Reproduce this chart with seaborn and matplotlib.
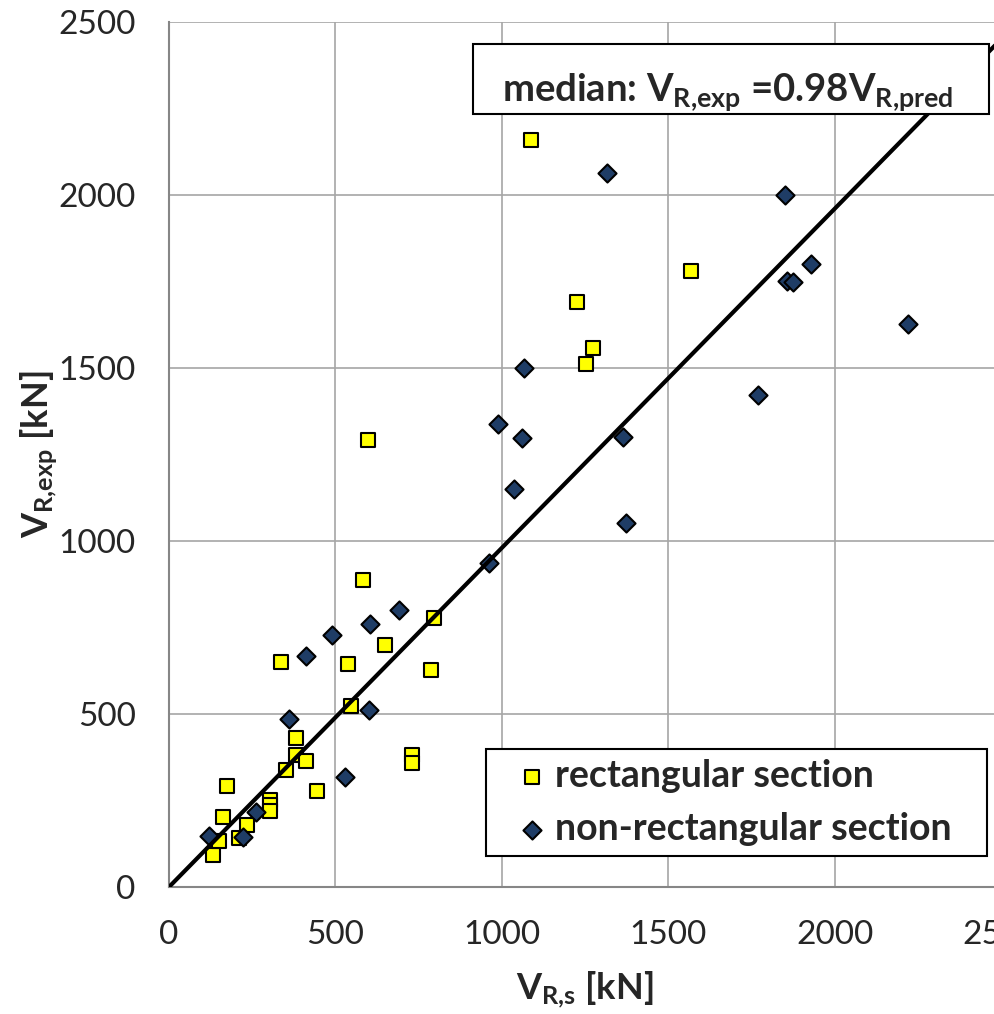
import pandas as pd
import seaborn as sns
import matplotlib.pyplot as plt
from matplotlib.patches import Rectangle

# values (kN)
rect_x = [133, 151, 163, 173, 211, 233, 304, 304, 304, 351, 381, 382, 411, 444,
          537, 546, 583, 598, 649, 731, 731, 787, 797, 337, 1089, 1227, 1253, 1273, 1568]
rect_y = [93, 134, 203, 293, 141, 179, 252, 237, 220, 339, 432, 382, 363, 277,
          645, 524, 888, 1292, 700, 382, 358, 628, 778, 650, 2160, 1692, 1513, 1559, 1781]

nonrect_x = [121, 222, 260, 362, 411, 491, 529, 602, 604, 692, 963, 990, 1037, 1060,
             1067, 1317, 1363, 1373, 1770, 1852, 1856, 1876, 1928, 2220]
nonrect_y = [147, 144, 218, 486, 669, 729, 319, 512, 760, 800, 937, 1337, 1149, 1299,
             1501, 2063, 1301, 1051, 1423, 2001, 1752, 1749, 1800, 1626]

median_factor = 0.98
line_x = [0, 2500]
ticks = [0, 500, 1000, 1500, 2000, 2500]

rect = pd.DataFrame({'pred': rect_x, 'exp': rect_y})
nonrect = pd.DataFrame({'pred': nonrect_x, 'exp': nonrect_y})

sns.set_style('white')
plt.rcParams['font.family'] = ['Lato', 'DejaVu Sans']
plt.rcParams['mathtext.default'] = 'regular'

fig = plt.figure(figsize=(9.94, 10.14), dpi=100)
ax = fig.add_axes([169 / 994, 127 / 1014, 832 / 994, 865 / 1014])

sns.scatterplot(data=rect, x='pred', y='exp', marker='s', s=100, color='#ffff00',
                edgecolor='black', linewidth=1.5, ax=ax, zorder=3,
                label='rectangular section')
sns.scatterplot(data=nonrect, x='pred', y='exp', marker='D', s=85, color='#1f3d66',
                edgecolor='black', linewidth=1.5, ax=ax, zorder=3,
                label='non-rectangular section')

ax.plot(line_x, [v * median_factor for v in line_x], color='black', lw=3, zorder=4)

ax.set_xlim(0, 2500)
ax.set_ylim(0, 2500)
ax.set_xticks(ticks)
ax.set_yticks(ticks)
ax.grid(True, color='#a6a6a6', lw=1.2)
ax.set_axisbelow(True)
for s in ['top', 'right']:
    ax.spines[s].set_visible(False)
for s in ['left', 'bottom']:
    ax.spines[s].set_color('#868686')
    ax.spines[s].set_linewidth(1.5)
ax.tick_params(direction='in', length=8, width=1.2, color='#868686',
               labelsize=24, pad=24)

ax.set_xlabel('$V_{R{,}s}$ [kN]', fontsize=26, fontweight='bold', labelpad=14)
ax.set_ylabel('$V_{R{,}exp}$ [kN]', fontsize=26, fontweight='bold', labelpad=-1)

# legend box drawn separately so its size matches the original
ax.add_patch(Rectangle((0.381, 0.0358), 0.602, 0.1237, transform=ax.transAxes,
                       facecolor='white', edgecolor='black', lw=1.5, zorder=5))
leg = ax.legend(loc='center left', bbox_to_anchor=(0.4185, 0.0358 + 0.1237 / 2),
                borderaxespad=0, borderpad=0, frameon=False,
                prop={'weight': 'bold', 'size': 27},
                handlelength=0.8, handletextpad=0.22, labelspacing=0.5)
leg.set_zorder(6)

ax.add_patch(Rectangle((0.365, 0.894), 0.62, 0.080, transform=ax.transAxes,
                       facecolor='white', edgecolor='black', lw=1.5, zorder=5,
                       clip_on=False))
ax.text(0.400, 0.909, 'median: $V_{R{,}exp}$ =0.98$V_{R{,}pred}$', transform=ax.transAxes,
        fontsize=27.5, fontweight='bold', va='baseline', ha='left', zorder=6)

fig.savefig('out.png', dpi=100)
